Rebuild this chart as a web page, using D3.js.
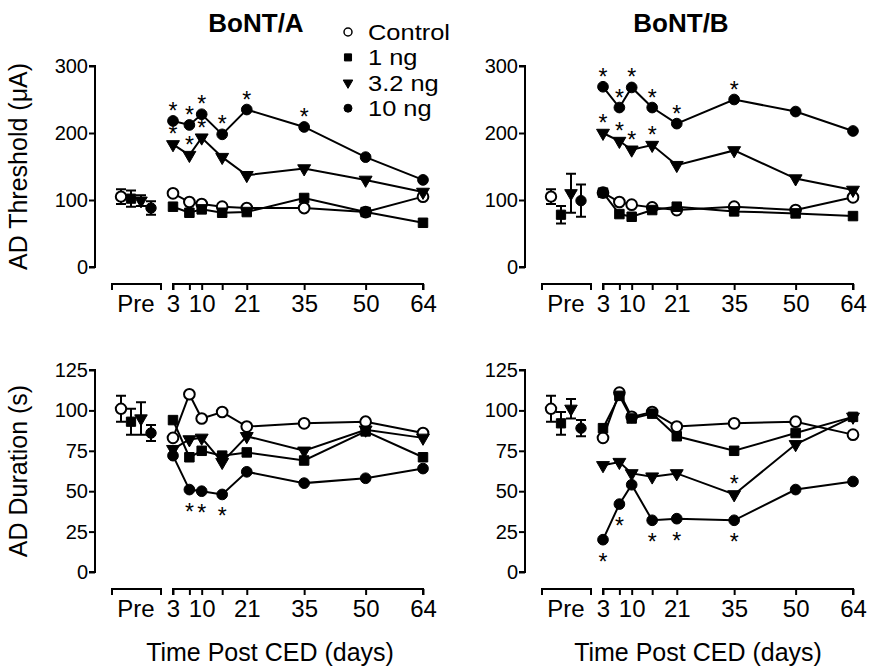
<!DOCTYPE html>
<html>
<head>
<meta charset="utf-8">
<script src="https://cdn.jsdelivr.net/npm/d3@7"></script>
<style>
  body { margin: 0; background: #fff; }
  svg text { font-family: "Liberation Sans", Arial, sans-serif; fill: #000; }
</style>
</head>
<body>
<div id="main"></div>
<script>
const ctx = { w: 869, h: 671 };

// data
const days = [3, 7, 10, 15, 21, 35, 50, 64];
const dayLabels = [3, 10, 21, 35, 50, 64];
const groups = ["Control", "1 ng", "3.2 ng", "10 ng"];

const thrA_ctrl = [110, 97, 94, 90, 88, 88, 82, 105];
const thrA_1 = [90, 81, 86, 81, 82, 103, 82, 66];
const thrA_3 = [183, 167, 193, 164, 137, 147, 130, 112];
const thrA_10 = [218, 212, 228, 198, 235, 209, 164, 130];
const thrA_pre = [105, 102, 99, 88];
const thrA_preErr = [11, 12, 8, 10];

const thrB_ctrl = [111, 97, 93, 89, 85, 90, 85, 104];
const thrB_1 = [111, 79, 75, 85, 90, 83, 80, 76];
const thrB_3 = [200, 188, 175, 182, 152, 174, 132, 115];
const thrB_10 = [269, 238, 268, 238, 214, 250, 232, 203];
const thrB_pre = [105, 78, 110, 99];
const thrB_preErr = [11, 13, 29, 24];

const durA_ctrl = [83, 110, 95, 99, 90, 92, 93, 86];
const durA_1 = [94, 71, 75, 72, 74, 69, 87, 71];
const durA_3 = [76, 82, 83, 68, 84, 75, 88, 83];
const durA_10 = [72, 51, 50, 48, 62, 55, 58, 64];
const durA_pre = [101, 93, 95, 86];
const durA_preErr = [8, 8, 10, 5];

const durB_ctrl = [83, 111, 96, 99, 90, 92, 93, 85];
const durB_1 = [89, 109, 95, 98, 84, 75, 86, 96];
const durB_3 = [66, 68, 61, 59, 61, 48, 79, 96];
const durB_10 = [20, 42, 54, 32, 33, 32, 51, 56];
const durB_pre = [101, 92, 101, 89];
const durB_preErr = [8, 7, 6, 5];

// significance stars: [group index, day, "a"bove / "b"elow]
const starsThrA = [[3,3,"a"],[3,7,"a"],[3,10,"a"],[3,15,"a"],[3,21,"a"],[3,35,"a"],[2,3,"a"],[2,7,"a"],[2,10,"a"]];
const starsThrB = [[3,3,"a"],[3,7,"a"],[3,10,"a"],[3,15,"a"],[3,21,"a"],[3,35,"a"],[2,3,"a"],[2,7,"a"],[2,10,"a"],[2,15,"a"]];
const starsDurA = [[3,7,"b"],[3,10,"b"],[3,15,"b"]];
const starsDurB = [[3,3,"b"],[3,7,"b"],[3,15,"b"],[3,21,"b"],[3,35,"b"],[2,35,"a"]];

const symTypes = [d3.symbolCircle, d3.symbolSquare, d3.symbolTriangle, d3.symbolCircle];

function drawMarker(g, gi, x, y, size) {
  g.append("path")
    .attr("d", d3.symbol().type(symTypes[gi]).size(gi === 2 ? size * 0.8 : size)())
    .attr("transform", `translate(${x},${y})` + (gi === 2 ? " rotate(180)" : ""))
    .attr("fill", gi === 0 ? "#fff" : "#000")
    .attr("stroke", "#000")
    .attr("stroke-width", gi === 0 ? 2 : 1);
}

function drawPanel(svg, opt) {
  const g = svg.append("g");
  const x0 = opt.x0;
  const y = d3.scaleLinear().domain(opt.yDomain).range(opt.yRange);
  const xt = d3.scaleLinear().domain([3, 64]).range([x0 + 78, x0 + 328]);
  const xp = d3.scalePoint().domain(groups).range([x0 + 26, x0 + 56]);

  // y axis
  const ya = g.append("g").attr("transform", `translate(${x0},0)`)
    .call(d3.axisLeft(y).tickValues(opt.yTicks).tickSize(6).tickPadding(1));
  ya.select(".domain").attr("stroke-width", 2).attr("d", `M-6,${y(opt.yDomain[1])}H0V${y(0)}H-6`);
  ya.selectAll(".tick line").attr("stroke-width", 2);
  ya.selectAll(".tick text").style("font-size", "20px").attr("fill", "#000");

  // x axis: time part
  const xa = g.append("g").attr("transform", `translate(0,${opt.axisY})`)
    .call(d3.axisBottom(xt).tickValues(days).tickSize(6).tickPadding(5)
      .tickFormat(d => dayLabels.includes(d) ? d : ""));
  xa.select(".domain").attr("stroke-width", 2).attr("d", `M${xt(3)},6V0H${xt(64)}V6`);
  xa.selectAll(".tick line").attr("stroke-width", 2);
  xa.selectAll(".tick text").style("font-size", "24px").attr("fill", "#000");

  // x axis: pre part
  g.append("path")
    .attr("d", `M${x0 + 17},${opt.axisY + 6}V${opt.axisY}H${x0 + 66}V${opt.axisY + 6}`)
    .attr("fill", "none").attr("stroke", "#000").attr("stroke-width", 2);
  g.append("text").attr("x", x0 + 41).attr("y", opt.axisY + 11)
    .attr("dy", "0.71em").attr("text-anchor", "middle")
    .style("font-size", "24px").text("Pre");

  // pre points with error bars
  opt.pre.forEach((v, i) => {
    const px = xp(groups[i]);
    const e = opt.preErr[i];
    g.append("path")
      .attr("d", `M${px},${y(v - e)}V${y(v + e)}M${px - 5},${y(v + e)}H${px + 5}M${px - 5},${y(v - e)}H${px + 5}`)
      .attr("stroke", "#000").attr("stroke-width", 2).attr("fill", "none");
  });
  opt.pre.forEach((v, i) => drawMarker(g, i, xp(groups[i]), y(v), 85));

  // lines
  const line = d3.line().x((d, i) => xt(days[i])).y(d => y(d));
  opt.series.forEach(s => {
    g.append("path").attr("d", line(s))
      .attr("fill", "none").attr("stroke", "#000").attr("stroke-width", 2);
  });
  opt.series.forEach((s, gi) => {
    s.forEach((v, i) => drawMarker(g, gi, xt(days[i]), y(v), 90));
  });

  // stars
  opt.stars.forEach(([gi, day, side]) => {
    const v = opt.series[gi][days.indexOf(day)];
    const cy = y(v) + (side === "a" ? -15 : 17);
    g.append("text").attr("x", xt(day)).attr("y", cy + 13)
      .attr("text-anchor", "middle").style("font-size", "23px").text("*");
  });

  if (opt.title) {
    g.append("text").attr("x", opt.titleX).attr("y", 32)
      .attr("text-anchor", "middle").style("font-size", "26px").style("font-weight", "bold")
      .text(opt.title);
  }
  if (opt.yLabel) {
    g.append("text")
      .attr("transform", `translate(27,${(opt.yRange[0] + opt.yRange[1]) / 2}) rotate(-90)`)
      .attr("text-anchor", "middle").style("font-size", "25px").text(opt.yLabel);
  }
}

function createViz() {
  const svg = d3.select("#main").append("svg")
    .attr("width", ctx.w).attr("height", ctx.h);

  const top = { yDomain: [0, 300], yRange: [267, 66], yTicks: [0, 100, 200, 300], axisY: 284 };
  const bot = { yDomain: [0, 125], yRange: [572, 370], yTicks: [0, 25, 50, 75, 100, 125], axisY: 589 };

  drawPanel(svg, Object.assign({}, top, { x0: 95, title: "BoNT/A", titleX: 256, yLabel: "AD Threshold (\u03bcA)",
    series: [thrA_ctrl, thrA_1, thrA_3, thrA_10], pre: thrA_pre, preErr: thrA_preErr, stars: starsThrA }));
  drawPanel(svg, Object.assign({}, top, { x0: 525, title: "BoNT/B", titleX: 681,
    series: [thrB_ctrl, thrB_1, thrB_3, thrB_10], pre: thrB_pre, preErr: thrB_preErr, stars: starsThrB }));
  drawPanel(svg, Object.assign({}, bot, { x0: 95, yLabel: "AD Duration (s)",
    series: [durA_ctrl, durA_1, durA_3, durA_10], pre: durA_pre, preErr: durA_preErr, stars: starsDurA }));
  drawPanel(svg, Object.assign({}, bot, { x0: 525,
    series: [durB_ctrl, durB_1, durB_3, durB_10], pre: durB_pre, preErr: durB_preErr, stars: starsDurB }));

  // x axis titles
  [270, 698].forEach(cx => {
    svg.append("text").attr("x", cx).attr("y", 661).attr("text-anchor", "middle")
      .style("font-size", "25px").text("Time Post CED (days)");
  });

  // legend (slightly condensed height, stretched width to keep rows apart)
  const leg = svg.append("g").attr("transform", "translate(348,32)");
  groups.forEach((name, i) => {
    const row = leg.append("g").attr("transform", `translate(0,${i * 25.4})`);
    row.append("path")
      .attr("d", d3.symbol().type(symTypes[i]).size(i === 2 ? 40 : 50)())
      .attr("transform", i === 2 ? "rotate(180)" : null)
      .attr("fill", i === 0 ? "#fff" : "#000").attr("stroke", "#000").attr("stroke-width", i === 0 ? 1.5 : 1);
    const t = row.append("text").attr("x", 20).attr("dy", "0.35em")
      .style("font-size", "22.5px").text(name);
    const w = t.node().getComputedTextLength();
    t.attr("textLength", w * 1.13).attr("lengthAdjust", "spacingAndGlyphs");
  });
}

createViz();
</script>
</body>
</html>
